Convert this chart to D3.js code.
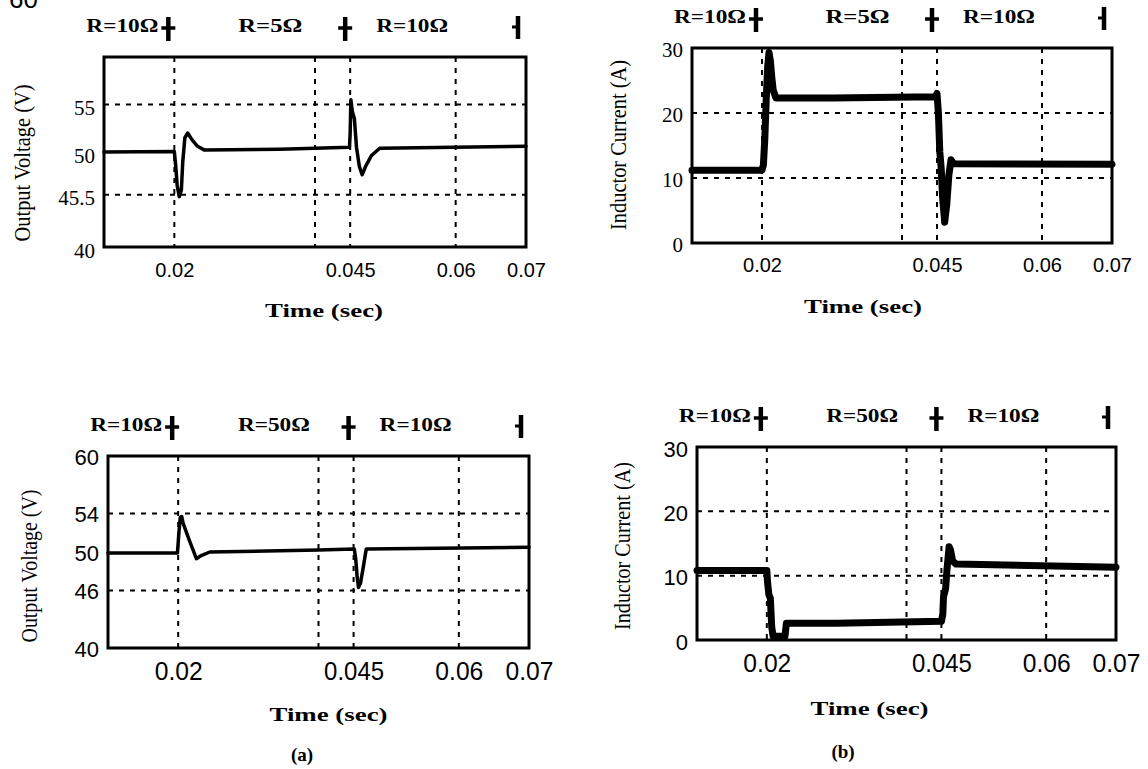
<!DOCTYPE html>
<html><head><meta charset="utf-8">
<script src="https://cdn.jsdelivr.net/npm/d3@7"></script>
<style>body{margin:0;background:#fff}svg{display:block}</style>
</head><body>
<svg id="c" width="1148" height="769"></svg>
<script>
// ---------- data ----------
const xTickValues = [0.02, 0.045, 0.06, 0.07];
const xTickLabels = ["0.02", "0.045", "0.06", "0.07"];
const xGridValues = [0.02, 0.04, 0.045, 0.06];
const eventTimes = [0.02, 0.045, 0.07];

// (a) top: output voltage, R 10 -> 5 -> 10
const yTicksA1 = [40, 45.5, 50, 55];
const yGridA1 = [45.5, 55];
const loadA1 = ["R=10Ω", "R=5Ω", "R=10Ω"];
const tA1 = [0.010, 0.0200, 0.0202, 0.0204, 0.0207, 0.0210, 0.0212, 0.0215, 0.0219, 0.0225, 0.0233, 0.0243, 0.0350, 0.0449, 0.0450, 0.0451, 0.0453, 0.0456, 0.0459, 0.0463, 0.0467, 0.0472, 0.0480, 0.0492, 0.0700];
const vA1 = [50.0, 50.05, 48.5, 46.5, 45.3, 46.0, 49.0, 51.5, 52.0, 51.3, 50.6, 50.2, 50.3, 50.5, 52.0, 55.5, 54.3, 53.5, 50.5, 48.5, 47.6, 48.5, 49.6, 50.4, 50.6];

// (b) top: inductor current, R 10 -> 5 -> 10
const yTicksB1 = [0, 10, 20, 30];
const yGridB1 = [10, 20];
const loadB1 = ["R=10Ω", "R=5Ω", "R=10Ω"];
const tB1 = [0.010, 0.0200, 0.0202, 0.0204, 0.0206, 0.0208, 0.0210, 0.0212, 0.0214, 0.0216, 0.0220, 0.0300, 0.0448, 0.0450, 0.0452, 0.0454, 0.0456, 0.0458, 0.0461, 0.0464, 0.0467, 0.0470, 0.0474, 0.0700];
const iB1 = [11.2, 11.2, 12.0, 16.0, 22.0, 27.0, 29.3, 28.0, 25.5, 23.5, 22.3, 22.3, 22.5, 23.0, 20.0, 14.0, 11.5, 7.0, 3.2, 6.0, 10.5, 12.8, 12.2, 12.1];

// (a) bottom: output voltage, R 10 -> 50 -> 10
const yTicksA2 = [40, 46, 50, 54, 60];
const yGridA2 = [46, 54];
const loadA2 = ["R=10Ω", "R=50Ω", "R=10Ω"];
const tA2 = [0.010, 0.0199, 0.0201, 0.0203, 0.0205, 0.0207, 0.0216, 0.0226, 0.0232, 0.0245, 0.0400, 0.0451, 0.0453, 0.0455, 0.0457, 0.0460, 0.0464, 0.0468, 0.0700];
const vA2 = [49.9, 49.9, 52.0, 53.6, 53.7, 53.0, 51.2, 49.3, 49.6, 50.0, 50.2, 50.3, 49.3, 47.5, 46.3, 46.8, 48.5, 50.3, 50.5];

// (b) bottom: inductor current, R 10 -> 50 -> 10
const yTicksB2 = [0, 10, 20, 30];
const yGridB2 = [10, 20];
const loadB2 = ["R=10Ω", "R=50Ω", "R=10Ω"];
const tB2 = [0.010, 0.0200, 0.0201, 0.0203, 0.0205, 0.0207, 0.0209, 0.0226, 0.0228, 0.0300, 0.0450, 0.0452, 0.0453, 0.0456, 0.0458, 0.0461, 0.0463, 0.0466, 0.0471, 0.0700];
const iB2 = [10.8, 10.8, 9.0, 7.0, 6.5, 2.0, 0.6, 0.6, 2.6, 2.6, 2.9, 4.0, 6.7, 8.0, 11.0, 14.5, 14.0, 12.3, 11.8, 11.3];

const yTitleV = "Output Voltage (V)";
const yTitleI = "Inductor Current (A)";
const xTitle = "Time (sec)";
const subLabels = ["(a)", "(b)"];

// ---------- drawing ----------
const svg = d3.select("#c");
const serif = "'Liberation Serif','Times New Roman',serif";
const sans = "'Liberation Sans',Arial,sans-serif";

// stray fragment of the scanned page at the top-left corner
svg.append("text").attr("x", 9).attr("y", 8).attr("font-family", sans)
  .attr("font-size", 26).attr("fill", "#000").text("60");

function panel(c) {
  const x = d3.scaleLinear().domain([0.01, 0.07]).range([c.x0, c.x1]);
  const y = d3.scaleLinear().domain(c.yDomain).range([c.y1, c.y0]);
  const g = svg.append("g");

  // grid
  g.selectAll(".vg").data(xGridValues).join("line")
    .attr("x1", d => x(d)).attr("x2", d => x(d)).attr("y1", c.y0).attr("y2", c.y1)
    .attr("stroke", "#000").attr("stroke-width", 2).attr("stroke-dasharray", "5,6");
  g.selectAll(".hg").data(c.hGrid).join("line")
    .attr("x1", c.x0).attr("x2", c.x1).attr("y1", d => y(d)).attr("y2", d => y(d))
    .attr("stroke", "#000").attr("stroke-width", 2).attr("stroke-dasharray", "5,6");

  // trace
  const pts = c.t.map((t, i) => [t, c.v[i]]);
  g.append("path").datum(pts)
    .attr("d", d3.line().x(d => x(d[0])).y(d => y(d[1])))
    .attr("fill", "none").attr("stroke", "#000").attr("stroke-width", c.lw)
    .attr("stroke-linejoin", "round").attr("stroke-linecap", "round");

  // frame
  g.append("rect").attr("x", c.x0).attr("y", c.y0)
    .attr("width", c.x1 - c.x0).attr("height", c.y1 - c.y0)
    .attr("fill", "none").attr("stroke", "#000").attr("stroke-width", 3);

  // x axis labels
  const ax = g.append("g").attr("transform", `translate(0,${c.y1})`)
    .call(d3.axisBottom(x).tickValues(xTickValues)
      .tickFormat((d, i) => xTickLabels[i]).tickSize(0));
  ax.select(".domain").remove();
  ax.selectAll("text").attr("y", c.xLabOff).attr("dy", null)
    .attr("font-family", c.xFont).attr("font-size", c.xFs).attr("fill", "#000")
    .each(function (d, i) {
      if (c.xCharW) d3.select(this).attr("textLength", xTickLabels[i].length * c.xCharW)
        .attr("lengthAdjust", "spacingAndGlyphs");
    });

  // y axis labels
  const ay = g.append("g").attr("transform", `translate(${c.x0},0)`)
    .call(d3.axisLeft(y).tickValues(c.yTicks).tickFormat(d => String(d)).tickSize(0).tickPadding(9));
  ay.select(".domain").remove();
  ay.selectAll("text").attr("dy", null).attr("y", c.yLabOff)
    .attr("font-family", c.yFont).attr("font-size", c.yFs).attr("fill", "#000");

  // axis titles
  svg.append("text").attr("x", (c.x0 + c.x1) / 2 + c.xtDx).attr("y", c.y1 + c.xtOff)
    .attr("text-anchor", "middle").attr("font-family", serif).attr("font-weight", "bold")
    .attr("font-size", 18).attr("textLength", 118).attr("lengthAdjust", "spacingAndGlyphs")
    .text(xTitle);
  svg.append("text").attr("transform", `translate(${c.ytX},${c.ytY}) rotate(-90)`)
    .attr("text-anchor", "middle").attr("font-family", serif).attr("font-size", 23)
    .attr("textLength", c.ytLen).attr("lengthAdjust", "spacingAndGlyphs")
    .text(c.yTitle);

  // load-change annotations
  const top = c.y0;
  const xa = x(eventTimes[0]), xb = x(eventTimes[1]), xe = x(eventTimes[2]);
  const ann = [
    { x: xa - 16, anchor: "end", txt: c.load[0] },
    { x: (xa + xb) / 2 + 8, anchor: "middle", txt: c.load[1] },
    { x: xb + 26, anchor: "start", txt: c.load[2] }
  ];
  ann.forEach(a => {
    svg.append("text").attr("x", a.x).attr("y", top - 25).attr("text-anchor", a.anchor)
      .attr("font-family", serif).attr("font-weight", "bold").attr("font-size", 18)
      .attr("textLength", a.txt === "R=5Ω" ? 64 : 72)
      .attr("lengthAdjust", "spacingAndGlyphs").text(a.txt);
  });
  [xa - 6, xb - 5].forEach(mx => {
    svg.append("line").attr("x1", mx).attr("x2", mx).attr("y1", top - 40).attr("y2", top - 16)
      .attr("stroke", "#000").attr("stroke-width", 4.5);
    svg.append("line").attr("x1", mx - 7).attr("x2", mx + 7).attr("y1", top - 29).attr("y2", top - 29)
      .attr("stroke", "#000").attr("stroke-width", 3.5);
  });
  const me = xe - 8;
  svg.append("line").attr("x1", me).attr("x2", me).attr("y1", top - 41).attr("y2", top - 18)
    .attr("stroke", "#000").attr("stroke-width", 4.5);
  svg.append("line").attr("x1", me - 6).attr("x2", me).attr("y1", top - 30).attr("y2", top - 30)
    .attr("stroke", "#000").attr("stroke-width", 3);
}

panel({ x0: 104, x1: 526, y0: 57, y1: 247, yDomain: [40, 60], yTicks: yTicksA1, hGrid: yGridA1,
  t: tA1, v: vA1, lw: 3.5, load: loadA1, yTitle: yTitleV,
  xFont: sans, xFs: 20, xCharW: 0, xLabOff: 30, yFont: serif, yFs: 21, yLabOff: 10,
  xtDx: 9, xtOff: 70, ytX: 30, ytY: 163, ytLen: 157 });
panel({ x0: 692, x1: 1112, y0: 48, y1: 243, yDomain: [0, 30], yTicks: yTicksB1, hGrid: yGridB1,
  t: tB1, v: iB1, lw: 7, load: loadB1, yTitle: yTitleI,
  xFont: sans, xFs: 20, xCharW: 0, xLabOff: 29, yFont: serif, yFs: 21, yLabOff: 8,
  xtDx: -39, xtOff: 70, ytX: 626, ytY: 145, ytLen: 170 });
panel({ x0: 108, x1: 529, y0: 456, y1: 648, yDomain: [40, 60], yTicks: yTicksA2, hGrid: yGridA2,
  t: tA2, v: vA2, lw: 3.5, load: loadA2, yTitle: yTitleV,
  xFont: sans, xFs: 26, xCharW: 12, xLabOff: 32, yFont: sans, yFs: 22, yLabOff: 8,
  xtDx: 10, xtOff: 73, ytX: 37, ytY: 566, ytLen: 153 });
panel({ x0: 697, x1: 1116, y0: 447, y1: 640, yDomain: [0, 30], yTicks: yTicksB2, hGrid: yGridB2,
  t: tB2, v: iB2, lw: 7, load: loadB2, yTitle: yTitleI,
  xFont: sans, xFs: 26, xCharW: 12, xLabOff: 32, yFont: sans, yFs: 22, yLabOff: 9,
  xtDx: -37, xtOff: 75, ytX: 630, ytY: 546, ytLen: 168 });

svg.append("text").attr("x", 302).attr("y", 761).attr("text-anchor", "middle")
  .attr("font-family", serif).attr("font-weight", "bold").attr("font-size", 19).text(subLabels[0]);
svg.append("text").attr("x", 843).attr("y", 758).attr("text-anchor", "middle")
  .attr("font-family", serif).attr("font-weight", "bold").attr("font-size", 19).text(subLabels[1]);
</script>
</body></html>
